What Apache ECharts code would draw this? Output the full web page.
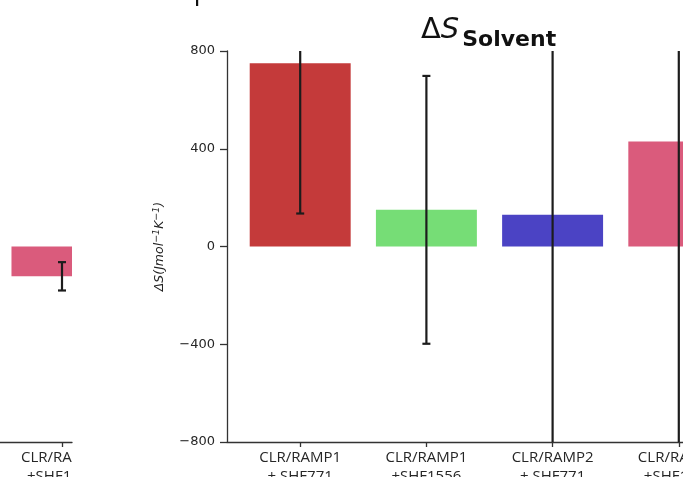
<!DOCTYPE html>
<html><head><meta charset="utf-8">
<script src="https://cdn.jsdelivr.net/npm/echarts@6/dist/echarts.min.js"></script>
<style>html,body{margin:0;padding:0;background:#fff}#c{width:683px;height:477px}</style>
</head><body><div id="c"></div>
<script>
// Main panel (ΔS Solvent)
const categories = ['CLR/RAMP1\n+ SHF771', 'CLR/RAMP1\n+SHF1556', 'CLR/RAMP2\n+ SHF771', 'CLR/RAMP2\n+SHF1556'];
const values = [750, 150, 130, 430];
const errors = [615, 548, 1250, 1300];
const barColors = ['#C43A3A', '#76DD76', '#4B43C4', '#DA5B7C'];
// Partially visible neighbouring panel (left)
const leftCategories = ['CLR/RAMP2\n+SHF1556'];
const leftIndex = [3];
const leftValues = [-122];
const leftErrors = [58];
const leftColors = ['#DA5B7C'];
const yTicks = [-800, -400, 0, 400, 800];

const catIdx = categories.map((c, i) => i);

function barItem(params, api) {
  const x = api.value(0), v = api.value(1);
  const a = api.coord([x - 0.4, v]);
  const b = api.coord([x + 0.4, 0]);
  return {
    type: 'rect',
    shape: { x: a[0], y: Math.min(a[1], b[1]), width: b[0] - a[0], height: Math.abs(b[1] - a[1]) },
    style: { fill: api.visual('color') }
  };
}
function errItem(params, api) {
  const x = api.value(0), lo = api.value(1), hi = api.value(2);
  const p1 = api.coord([x, lo]), p2 = api.coord([x, hi]);
  const st = { stroke: '#1c1c1c', lineWidth: 2.2 };
  return {
    type: 'group', children: [
      { type: 'line', shape: { x1: p1[0], y1: p1[1], x2: p2[0], y2: p2[1] }, style: st },
      { type: 'line', shape: { x1: p1[0] - 4, y1: p1[1], x2: p1[0] + 4, y2: p1[1] }, style: st },
      { type: 'line', shape: { x1: p2[0] - 4, y1: p2[1], x2: p2[0] + 4, y2: p2[1] }, style: st }
    ]
  };
}

const axisLineStyle = { color: '#333', width: 1.3 };
const catLabel = {
  fontFamily: 'Open Sans', fontSize: 15, color: '#262626', lineHeight: 19, margin: 6
};

const option = {
  animation: false,
  backgroundColor: '#fff',
  title: {
    left: 416, top: 8,
    text: '{d|Δ}{s|S}{b|Solvent}',
    textStyle: {
      fontWeight: 'normal',
      rich: {
        d: { fontSize: 29, fontFamily: 'DejaVu Sans', fontWeight: 'normal', color: '#111', lineHeight: 34 },
        s: { fontSize: 29, fontFamily: 'DejaVu Sans', fontWeight: 'normal', fontStyle: 'italic', color: '#111', lineHeight: 34 },
        b: { fontSize: 22, fontFamily: 'DejaVu Sans', fontWeight: 'bold', color: '#111', lineHeight: 22, padding: [20, 0, 0, 3] }
      }
    }
  },
  grid: [
    { left: 227, top: 51, height: 391, right: -69, outerBoundsMode: 'none', containLabel: false },
    { left: -20, top: 51, height: 391, right: 611, outerBoundsMode: 'none', containLabel: false }
  ],
  xAxis: [
    {
      type: 'value', gridIndex: 0, min: -0.58, max: 3.58,
      splitLine: { show: false },
      axisLine: { onZero: false, lineStyle: axisLineStyle },
      axisTick: { customValues: catIdx, length: 5, lineStyle: axisLineStyle },
      axisLabel: Object.assign({ customValues: catIdx, formatter: v => categories[Math.round(v)] }, catLabel)
    },
    {
      type: 'value', gridIndex: 1, min: 3 - 82 / 126.3, max: 3 + 10 / 126.3,
      splitLine: { show: false },
      axisLine: { onZero: false, lineStyle: axisLineStyle },
      axisTick: { customValues: leftIndex, length: 5, lineStyle: axisLineStyle },
      axisLabel: Object.assign({ customValues: leftIndex, formatter: v => leftCategories[leftIndex.indexOf(Math.round(v))] }, catLabel)
    }
  ],
  yAxis: [
    {
      type: 'value', gridIndex: 0, min: yTicks[0], max: yTicks[yTicks.length - 1], interval: 400,
      splitLine: { show: false },
      axisLine: { show: true, onZero: false, lineStyle: axisLineStyle },
      axisTick: { show: true, length: 7, lineStyle: axisLineStyle },
      axisLabel: { fontFamily: 'DejaVu Sans', fontSize: 13, color: '#262626', margin: 12,
        formatter: v => (v < 0 ? '\u2212' + Math.abs(v) : String(v)) },
      name: '{a|ΔS(Jmol}{sup|−1}{a|K}{sup|−1}{a|)}', nameLocation: 'middle', nameGap: 59,
      nameTextStyle: {
        rich: {
          a: { fontFamily: 'DejaVu Sans', fontStyle: 'italic', fontSize: 12.5, color: '#222', lineHeight: 16 },
          sup: { fontFamily: 'DejaVu Sans', fontStyle: 'italic', fontSize: 9.5, color: '#222', lineHeight: 10, padding: [0, 0, 6, 0] }
        }
      }
    },
    {
      type: 'value', gridIndex: 1, min: yTicks[0], max: yTicks[yTicks.length - 1], interval: 400,
      show: false, axisLine: { onZero: false }
    }
  ],
  series: [
    {
      type: 'custom', xAxisIndex: 0, yAxisIndex: 0, clip: true, renderItem: barItem,
      encode: { x: 0, y: 1 },
      data: values.map((v, i) => ({ value: [i, v], itemStyle: { color: barColors[i] } }))
    },
    {
      type: 'custom', xAxisIndex: 0, yAxisIndex: 0, clip: true, renderItem: errItem, z: 3,
      encode: { x: 0, y: [1, 2] },
      data: values.map((v, i) => [i, v - errors[i], v + errors[i]])
    },
    {
      type: 'custom', xAxisIndex: 1, yAxisIndex: 1, clip: true, renderItem: barItem,
      encode: { x: 0, y: 1 },
      data: leftValues.map((v, i) => ({ value: [leftIndex[i], v], itemStyle: { color: leftColors[i] } }))
    },
    {
      type: 'custom', xAxisIndex: 1, yAxisIndex: 1, clip: true, renderItem: errItem, z: 3,
      encode: { x: 0, y: [1, 2] },
      data: leftValues.map((v, i) => [leftIndex[i], v - leftErrors[i], v + leftErrors[i]])
    }
  ],
  graphic: [
    { type: 'rect', z: 100, shape: { x: 72, y: 444, width: 80, height: 40 }, style: { fill: '#fff' } },
    { type: 'rect', z: 100, shape: { x: 196, y: 0, width: 2.2, height: 6 }, style: { fill: '#111' } }
  ]
};

const chart = echarts.init(document.getElementById('c'), null, { renderer: 'canvas' });
chart.setOption(option);
</script>
</body></html>
